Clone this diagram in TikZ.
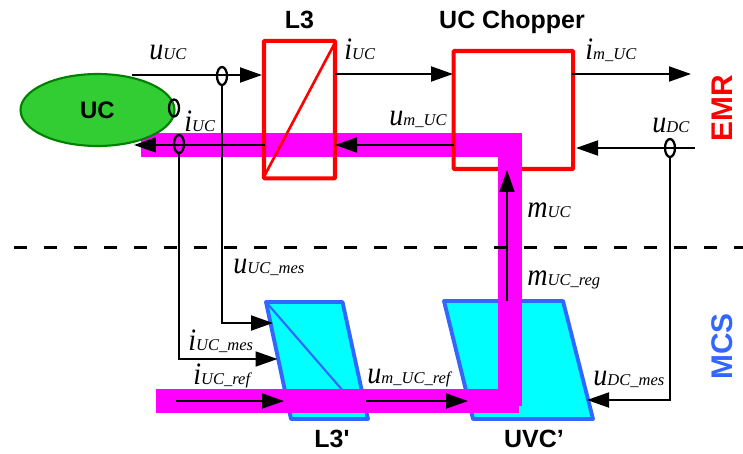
\documentclass[tikz,border=0pt]{standalone}
\usepackage{fontspec}
\setmainfont{Liberation Serif}
\setsansfont{Liberation Sans}
\usetikzlibrary{arrows.meta,shapes.geometric}
\definecolor{flux}{RGB}{255,0,255}
\definecolor{emr}{RGB}{255,0,0}
\definecolor{mcs}{RGB}{51,102,255}
\definecolor{sc}{RGB}{50,205,50}
\definecolor{scedge}{RGB}{0,128,0}
\definecolor{block}{RGB}{0,255,255}
\newcommand{\siglab}[2]{{\fontsize{14.8}{15}\selectfont\itshape\scalebox{1.08}[1.2]{#1}}{\fontsize{9.4}{10}\selectfont\itshape #2}}
\tikzset{
  >={Triangle[length=4.4mm,width=3mm]},
  wire/.style={line width=1.1pt,black},
  flow/.style={wire,->},
  tap/.style={ellipse,draw=black,line width=1.3pt,minimum width=2mm,minimum height=3.6mm,inner sep=0pt},
  band/.style={fill=flux},
  redbox/.style={draw=emr,line width=2.3pt,rounded corners=0.5pt,inner sep=0pt},
  bluebox/.style={draw=mcs,line width=2.2pt,fill=block,line join=round},
  sig/.style={anchor=base west,inner sep=0pt},
  title/.style={font=\sffamily\bfseries\fontsize{14.2}{15}\selectfont,anchor=base,inner sep=0pt},
  side/.style={font=\sffamily\bfseries\fontsize{17}{18}\selectfont,rotate=90,inner sep=0pt},
}
\begin{document}
\begin{tikzpicture}[x=0.02cm,y=-0.02cm]
  \useasboundingbox (0,0) rectangle (743,453);
  % upper power path
  \fill[band] (141,133) rectangle (522,156.5);
  \node[ellipse,draw=scedge,fill=sc,line width=1.2pt,minimum width=3.08cm,minimum height=1.44cm,inner sep=0pt,
    font=\sffamily\bfseries\fontsize{13.6}{14}\selectfont] (UC) at (97.5,110) {UC};
  \node[redbox,minimum width=1.42cm,minimum height=2.75cm] (L3) at (299.5,109.7) {};
  \draw[emr,line width=1.5pt,shorten >=1.2pt,shorten <=1.2pt] (L3.north east) -- (L3.south west);
  \node[redbox,minimum width=2.39cm,minimum height=2.36cm] (chop) at (513.3,110) {};
  % lower blocks
  \coordinate (l3a) at (266,302); \coordinate (l3b) at (342.5,302);
  \coordinate (l3c) at (368,419); \coordinate (l3d) at (291,419);
  \draw[bluebox] (l3a) -- (l3b) -- (l3c) -- (l3d) -- cycle;
  \draw[mcs,line width=1.2pt] (l3a) -- (344,392);
  \coordinate (uvca) at (444,301); \coordinate (uvcb) at (563,301);
  \coordinate (uvcc) at (593,419); \coordinate (uvcd) at (473,419);
  \draw[bluebox] (uvca) -- (uvcb) -- (uvcc) -- (uvcd) -- cycle;
  \fill[band] (156,389) rectangle (519,412.7);
  \fill[band] (498,133) rectangle (522,405.7);
  % separation
  \coordinate (sepl) at (0,247.5); \coordinate (sepr) at (743,247.5);
  \draw[wire,line width=1.2pt,dash pattern=on 0.27cm off 0.33cm,dash phase=0.32cm] (sepl) -- (sepr);
  % measure points
  \node[tap] (tapu) at (222,76) {};
  \node[tap] (tapi) at (179,144) {};
  \node[tap] (tapd) at (670,148) {};
  \node[tap,minimum height=3.4mm] (tapc) at (174,108) {};
  % connectors
  \coordinate (uucs) at (132,75); \coordinate (uuce) at (262,75);
  \coordinate (iucs) at (335,74); \coordinate (iuce) at (453,74);
  \coordinate (imos) at (572,74); \coordinate (imoe) at (691,74);
  \coordinate (umus) at (454,145); \coordinate (umue) at (335,145);
  \coordinate (ilos) at (265,145); \coordinate (iloe) at (134,145);
  \coordinate (udcs) at (695,148); \coordinate (udce) at (576,148);
  \coordinate (mreg) at (507,301); \coordinate (mtip) at (507,170);
  \coordinate (l3u) at (273,323); \coordinate (l3i) at (277.5,359);
  \coordinate (urefs) at (176,401); \coordinate (urefe) at (284,401);
  \coordinate (umrs) at (366,401); \coordinate (umre) at (468,401);
  \coordinate (dcin) at (587,400);
  \draw[flow] (uucs) -- (uuce);
  \draw[flow] (iucs) -- (iuce);
  \draw[flow] (imos) -- (imoe);
  \draw[flow] (umus) -- (umue);
  \draw[flow] (ilos) -- (iloe);
  \draw[flow] (udcs) -- (udce);
  \draw[flow] (mreg) -- (mtip);
  \draw[flow] (urefs) -- (urefe);
  \draw[flow] (umrs) -- (umre);
  \draw[flow] (tapu.south) |- (l3u);
  \draw[flow] (tapi.south) |- (l3i);
  \draw[flow] (tapd.south) |- (dcin);
  % signals
  \node[sig] (luuc) at (149,59) {\siglab{u}{UC}};
  \node[sig] (liuc) at (344,59) {\siglab{i}{UC}};
  \node[sig] (liuu) at (184,131) {\siglab{i}{UC}};
  \node[sig] (lumu) at (389,125) {\siglab{u}{m\_UC}};
  \node[sig] (limu) at (585,59) {\siglab{i}{m\_UC}};
  \node[sig] (ludc) at (652,132) {\siglab{u}{DC}};
  \node[sig] (lmuc) at (527,217) {\siglab{m}{UC}};
  \node[sig] (lmrg) at (527,285) {\siglab{m}{UC\_reg}};
  \node[sig] (lumes) at (233,273) {\siglab{u}{UC\_mes}};
  \node[sig] (limes) at (188,350) {\siglab{i}{UC\_mes}};
  \node[sig] (liref) at (193,384) {\siglab{i}{UC\_ref}};
  \node[sig] (lumr) at (367,383) {\siglab{u}{m\_UC\_ref}};
  \node[sig] (ldmes) at (593,385) {\siglab{u}{DC\_mes}};
  % titles
  \node[title] (tl3) at (299.5,28.5) {L3};
  \node[title] (tchop) at (512,28.5) {UC Chopper};
  \node[title] (tl3p) at (332,447) {L3\textquotesingle};
  \node[title] (tuvc) at (534,447) {UVC'};
  \node[side,text=emr] (temr) at (722,108.5) {EMR};
  \node[side,text=mcs] (tmcs) at (722,346.5) {MCS};
\end{tikzpicture}
\end{document}
